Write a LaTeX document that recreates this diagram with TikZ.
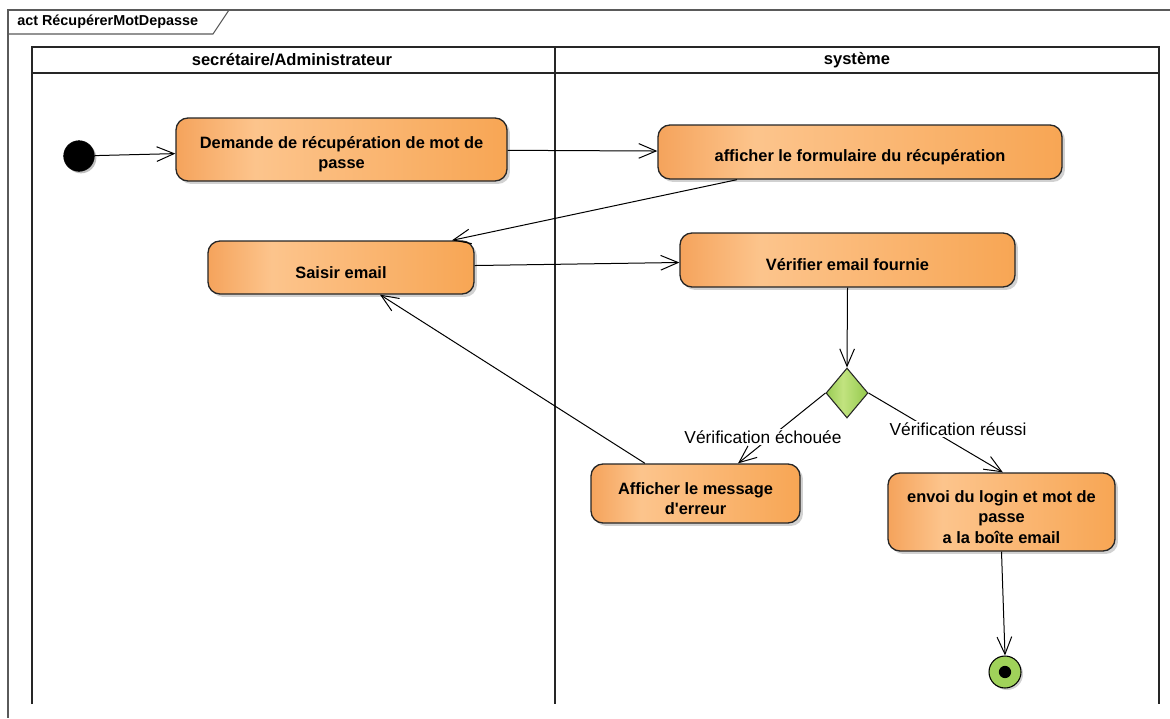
\documentclass[tikz,border=0pt]{standalone}
\usepackage{fontspec}
\setmainfont{Liberation Sans}[Ligatures=TeXOff]
\usetikzlibrary{arrows.meta,shapes.geometric,shadows}
\pgfdeclarehorizontalshading{orangeshade}{100bp}{rgb(0bp)=(0.96,0.64,0.36); rgb(25bp)=(0.96,0.64,0.36); rgb(37bp)=(0.99,0.77,0.55); rgb(75bp)=(0.97,0.65,0.33); rgb(100bp)=(0.97,0.65,0.33)}
\pgfdeclarehorizontalshading{greenshade}{100bp}{rgb(0bp)=(0.60,0.80,0.33); rgb(25bp)=(0.60,0.80,0.33); rgb(45bp)=(0.76,0.89,0.50); rgb(75bp)=(0.58,0.79,0.30); rgb(100bp)=(0.58,0.79,0.30)}
\definecolor{framegray}{RGB}{90,90,90}
\definecolor{endgreen}{RGB}{160,210,90}
\newcommand\toppad{\rule{0pt}{16.5pt}}
\tikzset{
  actbox/.style={draw=black!85, line width=1pt, rounded corners=9pt, shading=orangeshade,
    align=center, inner sep=0pt, font=\bfseries\fontsize{12.3}{15.2}\selectfont,
    drop shadow={shadow xshift=2.2pt, shadow yshift=-2.2pt, fill=black!18, opacity=1}},
  decision/.style={diamond, draw=black!85, line width=0.8pt, shading=greenshade, inner sep=0pt,
    minimum width=31.5pt, minimum height=37.5pt, shape aspect=0.85},
  initnode/.style={circle, fill=black, draw=black, minimum size=23pt, inner sep=0pt,
    drop shadow={shadow xshift=1.5pt, shadow yshift=-1.5pt, fill=black!25, opacity=1}},
  endnode/.style={circle, fill=endgreen, draw=black, line width=0.8pt, minimum size=24pt, inner sep=0pt,
    drop shadow={shadow xshift=1.5pt, shadow yshift=-1.5pt, fill=black!18, opacity=1}},
  flow/.style={draw=black, line width=0.75pt, -{Straight Barb[length=13pt, width=11pt]}},
  guard/.style={fill=white, inner sep=1pt, font=\fontsize{13}{15}\selectfont},
  lane/.style={line width=1.5pt, draw=black!85},
  lanehead/.style={font=\bfseries\fontsize{12.4}{14}\selectfont}
}
\begin{document}
\begin{tikzpicture}[x=0.75pt, y=-0.75pt]
\useasboundingbox (0,0) rectangle (1170,718);
\fill[white] (0,0) rectangle (1170,718);
% frame
\draw[framegray, line width=0.8pt] (1170,10) -- (8,10) -- (8,718);
\draw[framegray, line width=0.8pt] (8,34) -- (213,34) -- (229,10);
\node[anchor=west, font=\bfseries\fontsize{10.8}{12}\selectfont, inner sep=0pt] (title) at (17,22) {act RécupérerMotDepasse};
% lanes
\draw[lane] (32,704) -- (32,47) -- (1159,47) -- (1159,704);
\draw[lane] (555,47) -- (555,704);
\draw[lane] (32,73) -- (1159,73);
\node[lanehead] (lane1) at (292,60) {secrétaire/Administrateur};
\node[lanehead] (lane2) at (857,60) {système};
% nodes
\node[initnode] (init) at (79,156) {};
\node[actbox, minimum width=248.25pt, minimum height=47.25pt] (b1) at (341.5,149.5) {\toppad Demande de récupération de mot de\\passe};
\node[actbox, minimum width=303pt, minimum height=40.5pt] (b2) at (860,152) {\toppad afficher le formulaire du récupération};
\node[actbox, minimum width=199.5pt, minimum height=39.75pt] (b3) at (341,267.5) {\toppad Saisir email};
\node[actbox, minimum width=251.25pt, minimum height=40.5pt] (b4) at (847.5,260) {\toppad Vérifier email fournie};
\node[decision] (dec) at (847,393) {};
\node[actbox, minimum width=156.75pt, minimum height=44.25pt] (b5) at (695.5,493.5) {\toppad Afficher le message\\d'erreur};
\node[actbox, minimum width=170.25pt, minimum height=58.5pt] (b6) at (1001.5,512) {\toppad envoi du login et mot de\\passe\\a la boîte email};
\node[endnode] (fin) at (1005,672) {};
\fill[black] (fin.center) circle (4.6pt);
% connectors
\draw[flow] (init) -- (b1);
\draw[flow] (b1) -- (b2);
\draw[flow] ([xshift=-92.25pt]b2.south) -- ([xshift=83.25pt]b3.north);
\draw[flow] (b3) -- (b4);
\draw[flow] (b4.south) -- (dec.north);
\draw[flow] (dec.west) -- ([xshift=31.9pt]b5.north);
\draw[flow] (dec.east) -- ([xshift=1pt]b6.north);
\draw[flow] ([xshift=-37.9pt]b5.north) -- ([xshift=29.25pt]b3.south);
\draw[flow] (b6.south) -- (fin.north);
% guards
\node[guard] (g1) at (763,437) {Vérification échouée};
\node[guard] (g2) at (958,429) {Vérification réussi};
\end{tikzpicture}
\end{document}
